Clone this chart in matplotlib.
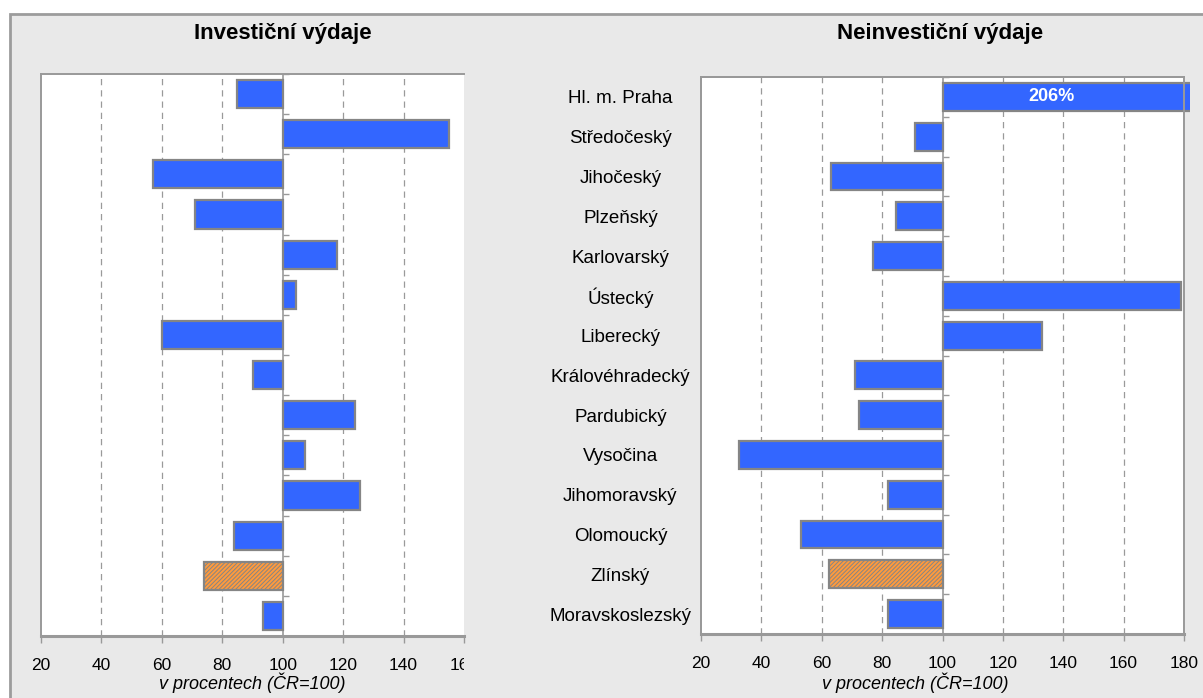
import matplotlib.pyplot as plt
import matplotlib.patches as mpatches
from matplotlib.transforms import Bbox, TransformedBbox
import numpy as np

plt.rcParams['font.family'] = ['Liberation Sans', 'DejaVu Sans']
plt.rcParams['hatch.color'] = '#ffffff'
plt.rcParams['hatch.linewidth'] = 0.7

regions = ['Hl. m. Praha', 'Středočeský', 'Jihočeský', 'Plzeňský', 'Karlovarský',
           'Ústecký', 'Liberecký', 'Královéhradecký', 'Pardubický', 'Vysočina',
           'Jihomoravský', 'Olomoucký', 'Zlínský', 'Moravskoslezský']
invest = [85, 155, 57, 71, 118, 104.5, 60, 90, 124, 107.5, 125.5, 84, 74, 93.5]
noninvest = [206, 91, 63, 84.5, 77, 179, 133, 71, 72.5, 32.5, 82, 53, 62.5, 82]
highlight = 'Zlínský'
ticks = [20, 40, 60, 80, 100, 120, 140, 160, 180]

BG = '#e9e9e9'
BLUE = '#3366ff'
ORANGE = '#ff9a3c'
EDGE = '#858585'
SPINE = '#999999'


def draw_panel(ax, values, xmax, labels):
    y = np.arange(len(regions))
    for i, v in enumerate(values):
        hl = regions[i] == highlight
        b = ax.barh(y[i], v - 100, left=100, height=0.7,
                    color=ORANGE if hl else BLUE, edgecolor=EDGE, linewidth=1.6,
                    hatch='////////' if hl else None, zorder=3)[0]
        if v > xmax:
            # bar runs a little past the frame like in the original
            b.set_clip_box(TransformedBbox(Bbox([[0, 0], [1.013, 1]]), ax.transAxes))
            ax.text((100 + xmax) / 2 - 4, y[i], f'{v:.0f}%', color='white',
                    fontweight='bold', fontsize=13, va='center', ha='center', zorder=4)
    ax.set_xlim(20, xmax)
    ax.set_ylim(len(regions) - 0.5, -0.5)
    ax.set_xticks([t for t in ticks if t <= xmax])
    for t in ticks:
        if 20 < t < xmax and t != 100:
            ax.axvline(t, color='#9a9a9a', linestyle=(0, (5, 4)), linewidth=0.9, zorder=1)
    ax.axvline(100, color=SPINE, linewidth=1.2, zorder=2)
    ax.set_facecolor('white')
    for s in ax.spines.values():
        s.set_color(SPINE)
        s.set_linewidth(1.4)
    ax.spines['bottom'].set_linewidth(2.2)
    ax.tick_params(axis='x', colors=SPINE, length=5, width=1, labelcolor='black',
                   labelsize=12.5, pad=11)
    # small category ticks on the 100 line
    ax.yaxis.set_ticks_position('right')
    ax.spines['right'].set_position(('data', 100))
    ax.spines['right'].set_visible(False)
    ax.set_yticks(np.arange(len(regions) + 1) - 0.5, minor=True)
    ax.tick_params(axis='y', which='minor', right=True, length=4, color=SPINE, width=1)
    ax.set_yticks([])
    if labels:
        sec = ax.secondary_yaxis('left')
        sec.set_yticks(np.arange(len(regions)))
        sec.set_yticklabels(regions, ha='center', fontsize=13.5)
        sec.tick_params(length=0, pad=58)
        sec.spines['left'].set_visible(False)


fig = plt.figure(figsize=(12.03, 6.98), dpi=100, facecolor='white')
fig.patches.append(mpatches.Rectangle((10 / 1203, -0.01), 1.02, (698 - 14) / 698 + 0.01,
                                      transform=fig.transFigure, facecolor=BG,
                                      edgecolor='#9c9c9c', linewidth=2, zorder=-10))

ax1 = fig.add_axes([41 / 1203, 62 / 698, 423 / 1203, 562 / 698])
ax2 = fig.add_axes([701 / 1203, 64 / 698, 483 / 1203, 557 / 698])

draw_panel(ax1, invest, 160, False)
ax1.spines['right'].set_visible(False)
draw_panel(ax2, noninvest, 180, True)

# right plot frame (right spine is used for the 100 line ticks)
ax2.add_patch(mpatches.Rectangle((0, 0), 1, 1, transform=ax2.transAxes, fill=False,
                                 edgecolor=SPINE, linewidth=1.4, zorder=5, clip_on=False))

# the last tick label on the left panel is cut off in the original
fig.canvas.draw()
clip = Bbox([[0, 0], [464, 698]])
for t in ax1.xaxis.get_major_ticks():
    t.label1.set_clip_box(clip)
    t.label1.set_clip_on(True)

fig.text(283 / 1203, 1 - 33 / 698, 'Investiční výdaje', ha='center', va='center',
         fontsize=16, fontweight='bold')
fig.text(940 / 1203, 1 - 33 / 698, 'Neinvestiční výdaje', ha='center', va='center',
         fontsize=16, fontweight='bold')
fig.text(252 / 1203, 1 - 683 / 698, 'v procentech (ČR=100)', ha='center', va='center',
         fontsize=13, style='italic')
fig.text(915 / 1203, 1 - 683 / 698, 'v procentech (ČR=100)', ha='center', va='center',
         fontsize=13, style='italic')

fig.savefig('out.png', dpi=100, facecolor=fig.get_facecolor())
